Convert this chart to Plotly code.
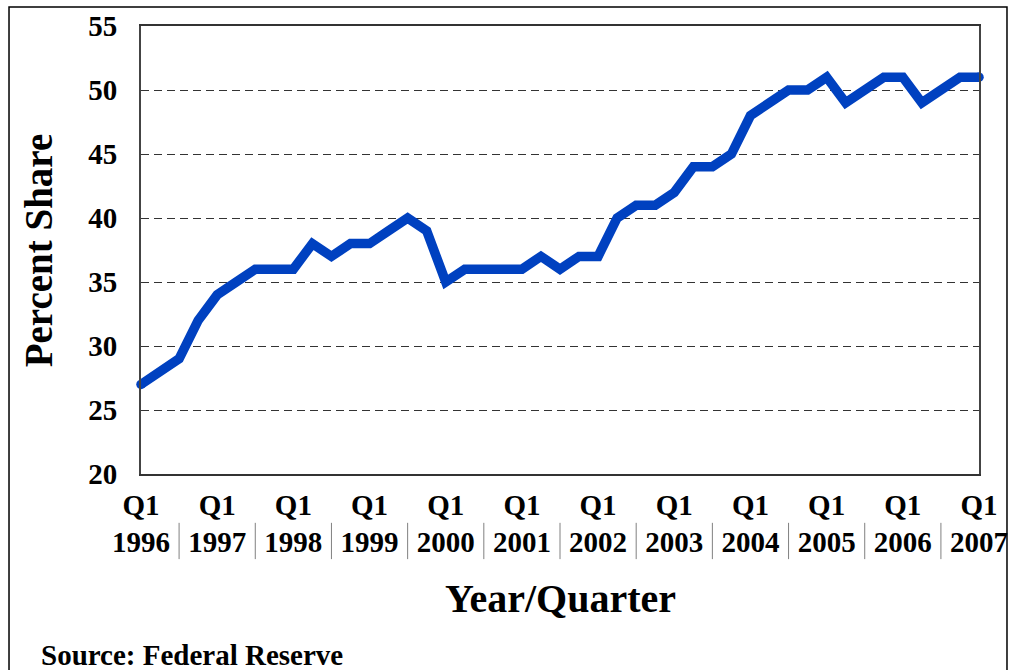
import plotly.graph_objects as go

years = list(range(1996, 2008))
quarters = ["Q1", "Q2", "Q3", "Q4"]
categories = [f"{y} {q}" for y in years for q in quarters][:45]

share = [
    27, 28, 29, 32,   # 1996
    34, 35, 36, 36,   # 1997
    36, 38, 37, 38,   # 1998
    38, 39, 40, 39,   # 1999
    35, 36, 36, 36,   # 2000
    36, 37, 36, 37,   # 2001
    37, 40, 41, 41,   # 2002
    42, 44, 44, 45,   # 2003
    48, 49, 50, 50,   # 2004
    51, 49, 50, 51,   # 2005
    51, 49, 50, 51,   # 2006
    51,               # 2007
]

tick_vals = [f"{y} Q1" for y in years]
tick_text = [f"Q1<br>{y}" for y in years]
y_ticks = [20, 25, 30, 35, 40, 45, 50, 55]

FONT = "Liberation Serif"
BLUE = "#0041C0"

fig = go.Figure()
fig.add_trace(go.Scatter(
    x=categories, y=share, mode="lines",
    line=dict(color=BLUE, width=9.5),
    cliponaxis=False, showlegend=False,
))
# round caps at both ends
fig.add_trace(go.Scatter(
    x=[categories[0], categories[-1]], y=[share[0], share[-1]], mode="markers",
    marker=dict(color=BLUE, size=9.5), cliponaxis=False, showlegend=False,
))

# separators between year labels
shapes = []
for i in range(len(years) - 1):
    xpos = i * 4 + 2
    shapes.append(dict(type="line", xref="x", yref="paper", x0=xpos, x1=xpos,
                       y0=-0.109, y1=-0.19, line=dict(color="#808080", width=1)))
# outer frame
shapes.append(dict(type="rect", xref="paper", yref="paper",
                   x0=-0.1575, x1=1.0334, y0=-0.6, y1=1.0424,
                   line=dict(color="black", width=1.5), layer="below"))

fig.update_layout(
    width=1010, height=670,
    margin=dict(l=141, r=31, t=26, b=196, autoexpand=False),
    paper_bgcolor="white", plot_bgcolor="white",
    font=dict(family=FONT, color="black"),
    shapes=shapes,
    annotations=[
        dict(text="Percent Share", xref="paper", yref="paper", x=-0.1225, y=0.5,
             textangle=-90, showarrow=False, xanchor="center", yanchor="middle",
             font=dict(family=FONT, size=39, weight="bold", color="black")),
        dict(text="Year/Quarter", xref="paper", yref="paper", x=0.5, y=-0.279,
             showarrow=False, xanchor="center", yanchor="middle",
             font=dict(family=FONT, size=40, weight="bold", color="black")),
        dict(text="Source: Federal Reserve", xref="paper", yref="paper", x=-0.122, y=-0.405,
             showarrow=False, xanchor="left", yanchor="middle",
             font=dict(family=FONT, size=29, weight="bold", color="black")),
    ],
)

fig.update_xaxes(
    type="category", range=[0, len(categories) - 1],
    tickmode="array", tickvals=tick_vals, ticktext=tick_text,
    tickfont=dict(family=FONT, size=29, weight="bold", color="black"),
    ticks="", showgrid=False, zeroline=False, automargin=False,
    showline=True, linecolor="#333333", linewidth=1.5, mirror=True,
    ticklabelstandoff=4,
)
fig.update_yaxes(
    range=[20, 55], tickmode="array", tickvals=y_ticks,
    tickfont=dict(family=FONT, size=29, weight="bold", color="black"),
    ticks="", showgrid=True, gridcolor="#333333", gridwidth=1, griddash="8px,5px",
    zeroline=False, showline=True, linecolor="#444444", linewidth=2, mirror=True,
    ticklabelstandoff=16, automargin=False,
)

fig.write_html("out.html", config={"displayModeBar": False},
               post_script="document.body.style.margin='0px';")
